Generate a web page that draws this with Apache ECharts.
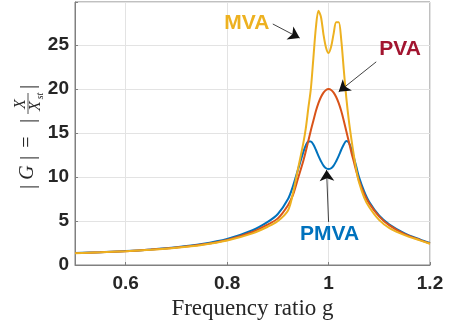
<!DOCTYPE html>
<html>
<head>
<meta charset="utf-8">
<script src="https://cdn.jsdelivr.net/npm/echarts@6/dist/echarts.min.js"></script>
<style>
  html, body { margin: 0; padding: 0; background: #fff; }
  #chart { width: 450px; height: 329px; }
</style>
</head>
<body>
<div id="chart"></div>
<script>
// frequency ratio samples
const freq = [0.5, 0.55, 0.6, 0.65, 0.7, 0.75, 0.8, 0.85, 0.88, 0.9, 0.92, 0.93, 0.94, 0.95, 0.955, 0.96, 0.965, 0.97, 0.975, 0.98,
  0.985, 0.99, 0.995, 1.0, 1.005, 1.01, 1.015, 1.02, 1.025, 1.03, 1.035, 1.04, 1.045, 1.05, 1.055, 1.06, 1.07, 1.08, 1.1, 1.12,
  1.15, 1.18, 1.2]

const mva = [1.34, 1.44, 1.56, 1.73, 1.95, 2.27, 2.78, 3.6, 4.35, 5.0, 6.2, 8.2, 11.0, 13.8, 15.5, 17.8, 20.0, 23.5, 27.0, 28.9,
  28.2, 26.2, 24.7, 24.1, 24.8, 26.3, 27.6, 27.6, 25.6, 22.2, 19.0, 16.4, 14.3, 12.4, 10.7, 9.4, 7.7, 6.6, 5.1, 4.2,
  3.4, 2.8, 2.42]

const pva = [1.35, 1.45, 1.57, 1.75, 1.98, 2.32, 2.85, 3.75, 4.6, 5.3, 6.8, 8.0, 9.9, 11.8, 12.9, 14.1, 15.3, 16.4, 17.5, 18.4,
  19.1, 19.6, 19.9, 20.0, 19.9, 19.6, 19.1, 18.4, 17.5, 16.4, 15.2, 14.0, 12.8, 11.7, 10.6, 9.6, 8.1, 7.0, 5.5, 4.5,
  3.5, 2.85, 2.45]

const pmva = [1.36, 1.46, 1.58, 1.77, 2.02, 2.38, 2.95, 3.95, 4.9, 5.8, 7.5, 9.0, 10.9, 12.8, 13.6, 14.05, 14.05, 13.7, 13.1, 12.4,
  11.8, 11.3, 11.0, 10.9, 11.0, 11.3, 11.8, 12.4, 13.1, 13.7, 14.1, 13.9, 13.2, 12.2, 11.1, 10.0, 8.4, 7.2, 5.6, 4.6,
  3.6, 2.9, 2.5]

const xTicks = [0.6, 0.8, 1, 1.2]
const yTicks = [0, 5, 10, 15, 20, 25]

// annotation anchors in data units: [label, text pos, arrow tail, arrow head]
const notes = [
  ['MVA', [0.839, 27.5], [0.890, 27.4], [0.943, 25.8], '#EDB120'],
  ['PVA', [1.141, 24.5], [1.094, 23.1], [1.020, 19.7], '#A2142F'],
  ['PMVA', [1.002, 3.5], [1.0, 4.9], [0.996, 10.8], '#0072BD'],
]

const tickFont = { fontFamily: 'Liberation Sans', fontWeight: 'bold', fontSize: 19, color: '#262626' }
const serif = '"Liberation Serif"'
const ink = '#262626'

function pairs(ys) {
  return freq.map((g, i) => [g, ys[i]])
}

function txt(x, y, text, size, italic) {
  return {
    type: 'text', x: x, y: y,
    style: {
      text: text, fill: ink, align: 'center', verticalAlign: 'middle',
      font: (italic ? 'italic ' : '') + size + 'px ' + serif,
    },
  }
}

const chart = echarts.init(document.getElementById('chart'))

chart.setOption({
  animation: false,
  backgroundColor: '#fff',
  grid: {
    left: 75, right: 20, top: 2, bottom: 64,
    show: true, borderColor: '#808080', borderWidth: 1,
    outerBoundsMode: 'none',
  },
  xAxis: {
    type: 'value', min: 0.5, max: 1.2, splitNumber: 4,
    name: 'Frequency ratio g', nameLocation: 'middle', nameGap: 31,
    nameTextStyle: { fontFamily: 'Liberation Serif', fontSize: 23, color: ink },
    axisLine: { show: true, lineStyle: { color: '#808080', width: 1 } },
    axisTick: { show: true, inside: true, length: 3, lineStyle: { color: '#808080' } },
    axisLabel: {
      ...tickFont, margin: 9,
      formatter: v => xTicks.some(t => Math.abs(t - v) < 1e-9) ? String(+v.toFixed(2)) : '',
    },
    splitLine: { show: true, lineStyle: { color: '#e3e3e3', width: 1 } },
  },
  yAxis: {
    type: 'value', min: 0, max: 29.9, interval: 5,
    axisLine: { show: true, lineStyle: { color: '#808080', width: 1 } },
    axisTick: { show: true, inside: true, length: 3, lineStyle: { color: '#808080' } },
    axisLabel: {
      ...tickFont, margin: 6,
      formatter: v => yTicks.includes(v) ? String(v) : '',
    },
    splitLine: { show: true, lineStyle: { color: '#e3e3e3', width: 1 } },
  },
  series: [
    {
      name: 'PMVA', type: 'line', data: pairs(pmva), showSymbol: false, smooth: 0.3,
      lineStyle: { color: '#0072BD', width: 2 }, itemStyle: { color: '#0072BD' },
    },
    {
      name: 'PVA', type: 'line', data: pairs(pva), showSymbol: false, smooth: 0.3,
      lineStyle: { color: '#D95319', width: 2 }, itemStyle: { color: '#D95319' },
    },
    {
      name: 'MVA', type: 'line', data: pairs(mva), showSymbol: false, smooth: 0.3,
      lineStyle: { color: '#EDB120', width: 2 }, itemStyle: { color: '#EDB120' },
      markLine: {
        silent: true, symbol: ['none', 'arrow'], symbolSize: 11,
        label: { show: false },
        itemStyle: { color: '#111' },
        lineStyle: { color: '#111', width: 0.8, type: 'solid' },
        data: notes.map(n => [{ coord: n[2] }, { coord: n[3] }]),
      },
      markPoint: {
        silent: true, symbol: 'circle', symbolSize: 1,
        itemStyle: { color: 'rgba(0,0,0,0)' },
        data: notes.map(n => ({
          coord: n[1],
          label: {
            show: true, position: 'inside', formatter: n[0], color: n[4],
            fontFamily: 'Liberation Sans', fontWeight: 'bold', fontSize: 21,
          },
        })),
      },
    },
  ],
  graphic: [
    {
      // |G| = |X / X_st|, rotated as a y-axis label
      type: 'group', x: 28, y: 137, rotation: Math.PI / 2,
      children: [
        txt(-50, 0.5, '|', 21),
        txt(-35.5, 0, 'G', 20, true),
        txt(-21, 0.5, '|', 21),
        txt(-5, 0, '=', 20),
        txt(16, 0.5, '|', 21),
        txt(33, -7.5, 'X', 16, true),
        { type: 'line', shape: { x1: 23, y1: 0, x2: 44, y2: 0 }, style: { stroke: ink, lineWidth: 0.8 } },
        txt(31, 7.5, 'X', 16, true),
        txt(41, 12, 'st', 10, true),
        txt(50, 0.5, '|', 21),
      ],
    },
  ],
})
</script>
</body>
</html>
